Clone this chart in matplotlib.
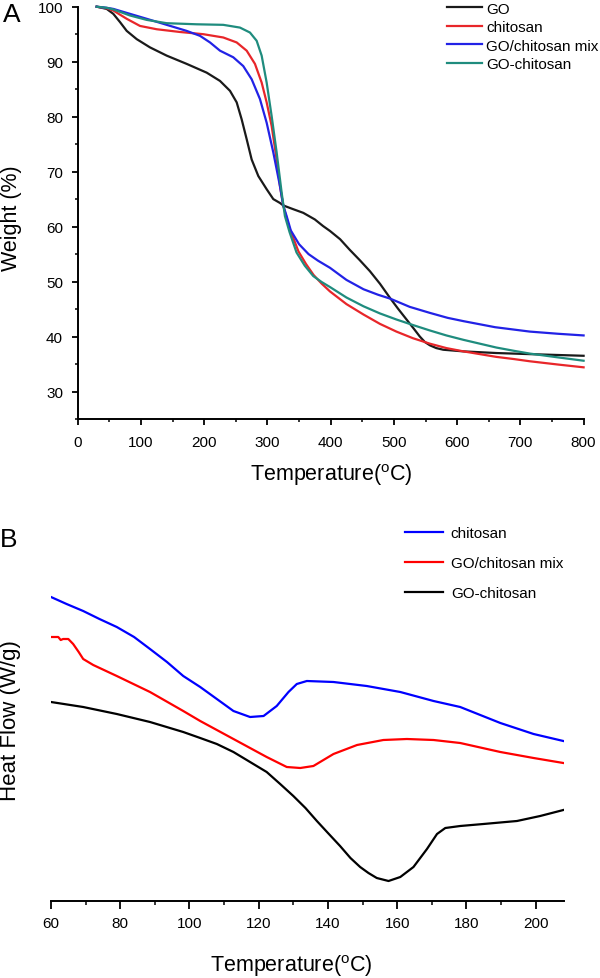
import matplotlib
matplotlib.use('Agg')
import matplotlib.pyplot as plt
from matplotlib.ticker import MultipleLocator

plt.rcParams['font.family'] = ['Liberation Sans', 'DejaVu Sans']
plt.rcParams['mathtext.fontset'] = 'custom'
plt.rcParams['mathtext.rm'] = 'Liberation Sans'
plt.rcParams['mathtext.it'] = 'Liberation Sans:italic'

# ---------------- Panel A data (TGA) ----------------
go_T = [30, 45.8, 56.3, 66.9, 77.5, 93.3, 114.3, 140.7, 172.3, 204, 225, 240.8, 251.4, 259.3,
        267.2, 275.1, 285.6, 298.8, 309.3, 319.8, 325, 340, 356.7, 375, 388, 399, 415, 430,
        446, 462, 478, 494, 507, 520, 531, 541, 549, 557, 567, 578, 610, 662, 715, 800]
go_W = [100, 99.6, 98.7, 97.2, 95.6, 94.1, 92.6, 91.1, 89.6, 88.0, 86.5, 84.7, 82.6, 79.5,
        75.9, 72.2, 69.2, 66.8, 65.0, 64.3, 63.85, 63.2, 62.5, 61.3, 60.1, 59.2, 57.7, 55.8,
        53.9, 51.9, 49.6, 47.0, 45.0, 43.1, 41.5, 40.0, 39.0, 38.4, 37.9, 37.6, 37.3, 37.0, 36.8, 36.5]

ch_T = [30, 45.8, 56.3, 77.5, 98.5, 124.9, 161.7, 198.6, 230.2, 251.4, 267.2, 280.3, 290.9,
        298.8, 306.7, 314.6, 319.8, 325, 334, 349, 361, 373, 386, 399, 425, 452, 478, 504,
        530, 557, 583, 610, 636, 662, 690, 715, 760, 800]
ch_W = [100, 99.7, 99.3, 97.8, 96.5, 95.9, 95.4, 95.0, 94.4, 93.5, 92.0, 89.6, 86.2,
        82.6, 78.3, 72.2, 67.4, 63.85, 60.0, 55.5, 53.2, 51.2, 49.6, 48.2, 45.9, 44.0, 42.3, 40.9,
        39.7, 38.7, 37.9, 37.3, 36.8, 36.3, 35.9, 35.5, 34.9, 34.4]

mx_T = [30, 45.8, 56.3, 82.7, 109.1, 140.7, 172.3, 193.4, 209.2, 225, 246, 261.8, 275.1,
        288.2, 298.8, 309.3, 319.8, 325, 330.4, 337, 350, 365, 380, 399, 425, 452, 475, 494,
        525, 557, 585, 610, 660, 715, 760, 800]
mx_W = [100, 99.8, 99.6, 98.7, 97.8, 96.7, 95.6, 94.7, 93.5, 92.0, 90.8, 89.2, 86.8,
        83.2, 78.9, 73.5, 67.4, 63.85, 61.9, 59.3, 56.8, 55.0, 53.8, 52.5, 50.3, 48.6, 47.6, 46.9,
        45.4, 44.3, 43.4, 42.8, 41.7, 40.9, 40.5, 40.2]

gc_T = [30, 45.8, 56.3, 82.7, 109.1, 140.7, 188.1, 230.2, 256.6, 272.4, 283, 290.9, 298.8,
        306.7, 314.6, 322.5, 327.7, 335, 346, 359, 372.5, 386, 399, 425, 452, 478, 504, 530,
        557, 583, 610, 636, 662, 690, 715, 760, 800]
gc_W = [100, 99.8, 99.5, 98.4, 97.6, 97.0, 96.8, 96.7, 96.2, 95.3, 93.8, 91.1, 86.2,
        80.1, 73.5, 66.2, 61.9, 59.0, 55.3, 52.9, 51.0, 49.9, 49.0, 47.1, 45.5, 44.2, 43.1, 42.1,
        41.1, 40.2, 39.4, 38.7, 38.0, 37.4, 36.9, 36.2, 35.6]

# ---------------- Panel B data (DSC, arbitrary units) ----------------
b_ch_T = [60, 64.5, 69.3, 74, 79, 84, 88.6, 93.5, 98.2, 103.1, 107.9, 112.7, 117.5, 121.4,
          125.2, 128.6, 131, 133.9, 141.6, 151.2, 160.9, 170.5, 178.2, 189.8, 199.4, 208]
b_ch_H = [30.4, 29.7, 29.0, 28.2, 27.4, 26.4, 25.2, 23.9, 22.5, 21.4, 20.2, 19.0, 18.4, 18.5,
          19.5, 20.9, 21.7, 22.0, 21.9, 21.5, 20.9, 20.0, 19.4, 17.8, 16.7, 16.0]

b_mx_T = [60, 62.1, 62.8, 63.5, 65, 66.4, 68, 69.3, 72.2, 79, 88.6, 98.2, 103.1, 112.7,
          122.3, 128.1, 132, 135.8, 141.6, 148.4, 156, 162.8, 170.5, 178.2, 189.8, 199.4, 208]
b_mx_H = [26.4, 26.4, 26.1, 26.2, 26.2, 25.7, 24.9, 24.2, 23.6, 22.5, 20.9, 19.0, 18.0, 16.2,
          14.4, 13.4, 13.3, 13.5, 14.7, 15.6, 16.1, 16.2, 16.1, 15.8, 14.9, 14.3, 13.8]

b_gc_T = [60, 69.3, 79, 88.6, 98.2, 103.1, 107.9, 112.7, 117.5, 122.3, 126.2, 130, 133.5,
          136.8, 140, 143.5, 146.5, 149.3, 151.7, 154.1, 157.5, 160.9, 164.7, 168.6, 171.5,
          173.9, 178.2, 184.9, 194.6, 201.3, 208]
b_gc_H = [19.9, 19.4, 18.7, 17.9, 16.9, 16.3, 15.7, 14.9, 13.9, 12.9, 11.7, 10.5, 9.3,
          8.0, 6.8, 5.5, 4.3, 3.4, 2.8, 2.3, 2.0, 2.4, 3.4, 5.2, 6.7,
          7.3, 7.5, 7.7, 8.0, 8.5, 9.1]

labels_A = ['GO', 'chitosan', 'GO/chitosan mix', 'GO-chitosan']
colors_A = ['#1a1a1a', '#e8262a', '#2222e6', '#1f8c7e']
labels_B = ['chitosan', 'GO/chitosan mix', 'GO-chitosan']
colors_B = ['#0000ff', '#ff0000', '#000000']

W, H = 600, 979
fig = plt.figure(figsize=(W / 100, H / 100), dpi=100)


def box(l, t, r, b):
    return [l / W, 1 - b / H, (r - l) / W, (b - t) / H]


# ---------------- Panel A ----------------
axA = fig.add_axes(box(77.7, 7.7, 583.6, 420))
for (xs, ys), lab, c in zip([(go_T, go_W), (ch_T, ch_W), (mx_T, mx_W), (gc_T, gc_W)],
                            labels_A, colors_A):
    axA.plot(xs, ys, color=c, lw=1.6, label=lab, clip_on=False, solid_joinstyle='round')
axA.set_xlim(0, 800)
axA.set_ylim(25, 100)
axA.xaxis.set_major_locator(MultipleLocator(100))
axA.xaxis.set_minor_locator(MultipleLocator(50))
axA.yaxis.set_minor_locator(MultipleLocator(5))
axA.set_yticks([30, 40, 50, 60, 70, 80, 90, 100])
for s in ['top', 'right']:
    axA.spines[s].set_visible(False)
for s in ['left', 'bottom']:
    axA.spines[s].set_linewidth(1.4)
axA.tick_params(which='major', direction='out', length=4.5, width=1.3, labelsize=11, pad=6)
axA.tick_params(which='minor', direction='out', length=2.5, width=1.1)
axA.tick_params(axis='x', which='major', pad=7)
axA.legend(loc='upper left', bbox_to_anchor=(446.7 / W, 1 - 2.5 / H), bbox_transform=fig.transFigure,
           frameon=False, fontsize=11, handlelength=2.3, handletextpad=0.3,
           labelspacing=0.3, borderpad=0, borderaxespad=0)

fig.text(11.5 / W, 1 - 15 / H, 'A', fontsize=19, ha='center', va='center')
fig.text(11.5 / W, 1 - 218 / H, 'Weight (%)', fontsize=15.5, rotation=90,
         ha='center', va='center')
fig.text(331 / W, 1 - 475 / H, r'Temperature($^{\rm o}$C)', fontsize=15.5,
         ha='center', va='center')

# ---------------- Panel B ----------------
axB = fig.add_axes(box(51, 522, 564.4, 902))
for (xs, ys), lab, c in zip([(b_ch_T, b_ch_H), (b_mx_T, b_mx_H), (b_gc_T, b_gc_H)],
                            labels_B, colors_B):
    axB.plot(xs, ys, color=c, lw=1.6, label=lab, solid_joinstyle='round')
axB.set_xlim(60, 208.3)
axB.set_ylim(0, 38)
axB.xaxis.set_major_locator(MultipleLocator(20))
axB.xaxis.set_minor_locator(MultipleLocator(10))
axB.set_yticks([])
for s in ['top', 'right', 'left']:
    axB.spines[s].set_visible(False)
axB.spines['bottom'].set_linewidth(1.4)
axB.tick_params(which='major', direction='out', length=6, width=1.3, labelsize=11, pad=5)
axB.tick_params(which='minor', direction='out', length=3, width=1.1)
axB.legend(loc='upper left', bbox_to_anchor=(405 / W, 1 - 527 / H), bbox_transform=fig.transFigure,
           frameon=False, fontsize=11, handlelength=2.5, handletextpad=0.5,
           labelspacing=1.05, borderpad=0, borderaxespad=0)

fig.text(9 / W, 1 - 540 / H, 'B', fontsize=19, ha='center', va='center')
fig.text(10.7 / W, 1 - 721 / H, 'Heat Flow (W/g)', fontsize=16, rotation=90,
         ha='center', va='center')
fig.text(291 / W, 1 - 966 / H, r'Temperature($^{\rm o}$C)', fontsize=15.5,
         ha='center', va='center')

fig.savefig('out.png', dpi=100)
